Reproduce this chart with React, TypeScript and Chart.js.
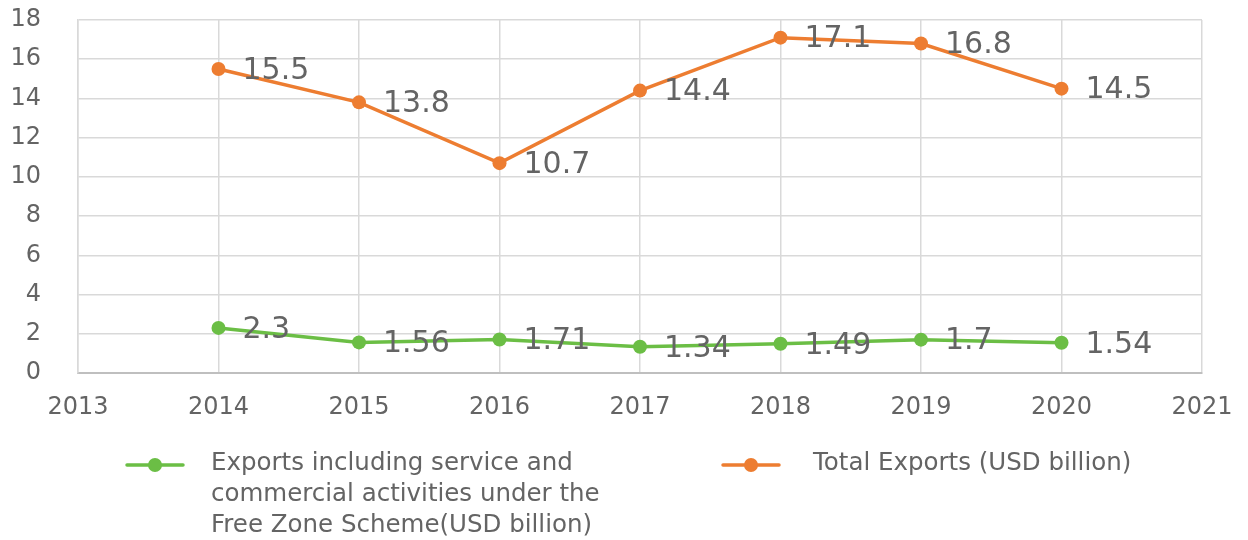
import React, { useEffect, useRef } from "react";
import { Chart, registerables } from "chart.js";

Chart.register(...registerables);

const years = [2014, 2015, 2016, 2017, 2018, 2019, 2020];
const freeZoneExports = [2.3, 1.56, 1.71, 1.34, 1.49, 1.7, 1.54];
const totalExports = [15.5, 13.8, 10.7, 14.4, 17.1, 16.8, 14.5];
const freeZoneLegendLines = [
  "Exports including service and",
  "commercial activities under the",
  "Free Zone Scheme(USD billion)",
];
const totalLegendLines = ["Total Exports (USD billion)"];
const xMin = 2013;
const xMax = 2021;
const yMin = 0;
const yMax = 18;
const yStep = 2;

const GREEN = "#6BBE45";
const ORANGE = "#ED7D31";
const TEXT = "#646464";
const FONT = "'DejaVu Sans', sans-serif";

const dataLabelPlugin = {
  id: "dataLabels",
  afterDatasetsDraw(chart: any) {
    const ctx = chart.ctx;
    ctx.save();
    ctx.font = `30px ${FONT}`;
    ctx.fillStyle = TEXT;
    ctx.textAlign = "left";
    ctx.textBaseline = "middle";
    chart.data.datasets.forEach((ds: any, i: number) => {
      const meta = chart.getDatasetMeta(i);
      meta.data.forEach((pt: any, j: number) => {
        const v = ds.data[j].y;
        ctx.fillText(String(v), pt.x + 24, pt.y + 2);
      });
    });
    ctx.restore();
  },
};

const legendPlugin = {
  id: "customLegend",
  afterDraw(chart: any) {
    const ctx = chart.ctx;
    const items = [
      { ds: chart.data.datasets[0], lines: freeZoneLegendLines, lineX: 127, textX: 211 },
      { ds: chart.data.datasets[1], lines: totalLegendLines, lineX: 723, textX: 813 },
    ];
    const y0 = 464;
    const lh = 31;
    ctx.save();
    items.forEach((it) => {
      ctx.strokeStyle = it.ds.borderColor;
      ctx.lineWidth = 3.5;
      ctx.lineCap = "round";
      ctx.beginPath();
      ctx.moveTo(it.lineX, y0 + 1);
      ctx.lineTo(it.lineX + 56, y0 + 1);
      ctx.stroke();
      ctx.fillStyle = it.ds.borderColor;
      ctx.beginPath();
      ctx.arc(it.lineX + 28, y0 + 1, 7, 0, Math.PI * 2);
      ctx.fill();
      ctx.font = `24.5px ${FONT}`;
      ctx.fillStyle = TEXT;
      ctx.textAlign = "left";
      ctx.textBaseline = "middle";
      it.lines.forEach((line: string, k: number) => {
        ctx.fillText(line, it.textX, y0 + k * lh);
      });
    });
    ctx.restore();
  },
};

export default function App() {
  const ref = useRef<HTMLCanvasElement>(null);
  useEffect(() => {
    document.body.style.margin = "0";
    const chart = new Chart(ref.current!, {
      type: "line",
      data: {
        datasets: [
          {
            label: freeZoneLegendLines.join(" "),
            data: years.map((x, i) => ({ x, y: freeZoneExports[i] })),
            borderColor: GREEN,
            backgroundColor: GREEN,
            borderWidth: 3.5,
            pointRadius: 7,
            pointBorderWidth: 0,
            pointBackgroundColor: GREEN,
          },
          {
            label: totalLegendLines.join(" "),
            data: years.map((x, i) => ({ x, y: totalExports[i] })),
            borderColor: ORANGE,
            backgroundColor: ORANGE,
            borderWidth: 3.5,
            pointRadius: 7,
            pointBorderWidth: 0,
            pointBackgroundColor: ORANGE,
          },
        ],
      },
      options: {
        responsive: false,
        animation: false,
        layout: { padding: { top: 20, right: 46, left: 0, bottom: 0 } },
        plugins: {
          legend: { display: false },
          tooltip: { enabled: false },
        },
        scales: {
          x: {
            type: "linear",
            min: xMin,
            max: xMax,
            afterFit: (s: any) => {
              s.height = 167;
              s.paddingLeft = 0;
              s.paddingRight = 0;
            },
            ticks: {
              stepSize: 1,
              padding: 20,
              color: TEXT,
              font: { family: FONT, size: 24 },
              callback: (v: any) => String(v),
            },
            grid: { color: "#d9d9d9", lineWidth: 1.5, drawTicks: false },
            border: { color: "#bfbfbf", width: 2 },
          },
          y: {
            min: yMin,
            max: yMax,
            afterFit: (s: any) => {
              s.width = 78;
              s.paddingTop = 0;
              s.paddingBottom = 0;
            },
            ticks: {
              stepSize: yStep,
              padding: 37,
              color: TEXT,
              font: { family: FONT, size: 24 },
            },
            grid: { color: "#d9d9d9", lineWidth: 1.5, drawTicks: false },
            border: { color: "#d9d9d9", width: 1.5 },
          },
        },
      },
      plugins: [dataLabelPlugin, legendPlugin],
    });
    return () => chart.destroy();
  }, []);
  return <canvas ref={ref} width={1248} height={540} />;
}
